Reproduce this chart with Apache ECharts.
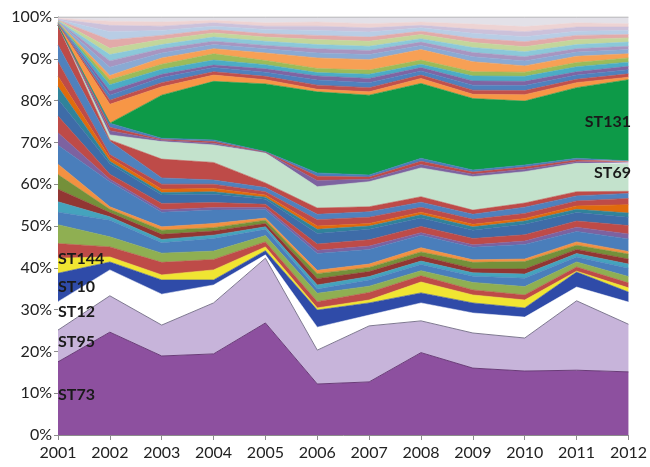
<!DOCTYPE html>
<html><head><meta charset="utf-8">
<script src="https://cdn.jsdelivr.net/npm/echarts@6/dist/echarts.min.js"></script>
<style>html,body{margin:0;padding:0;background:#fff}#c{width:650px;height:467px}</style>
</head><body><div id="c"></div>
<script>
const years = ['2001','2002','2003','2004','2005','2006','2007','2008','2009','2010','2011','2012'];

// main sequence types (% of isolates per year)
const st73  = [17.5, 24.6, 18.9, 19.4, 26.8, 12.2, 12.7, 19.7, 16.0, 15.3, 15.5, 15.1];
const st95  = [7.6, 8.7, 7.4, 12.2, 15.5, 8.1, 13.4, 7.6, 8.4, 7.9, 16.6, 11.4];
const st12  = [6.8, 6.2, 7.4, 4.3, 0.8, 5.5, 2.6, 4.3, 4.8, 5.0, 3.3, 5.3];
const st10  = [6.8, 1.9, 3.4, 1.2, 1.0, 4.1, 2.9, 2.4, 2.4, 2.2, 3.6, 2.4];
const st144 = [3.6, 1.2, 1.2, 2.4, 0.9, 0.5, 0.7, 2.6, 1.9, 1.9, 0.2, 1.0];
const st69  = [0, 1.2, 4.2, 4.2, 7.2, 5.1, 6.0, 6.9, 8.0, 7.5, 6.8, 6.5];
const st131 = [0, 0, 10.3, 14.0, 16.2, 19.4, 19.1, 17.9, 17.1, 15.3, 16.9, 19.4];

// other STs stacked between ST144 and ST69 (one row per year)
const lowerOthersByYear = [
  [3.5,4.5,3.0,2.5,3.0,3.5,2.5,4.5,3.0,4.0,4.0,3.0,2.5,3.5,4.0,4.7],
  [2.4,2.4,4.0,0.8,1.0,0.8,0.6,6.0,0.6,1.2,2.5,0.6,0.8,0.8,3.2,0.3],
  [3.0,2.2,2.5,0.8,1.2,1.0,0.8,3.5,0.6,1.5,2.0,0.6,0.8,1.2,1.5,4.5],
  [2.5,2.0,3.0,0.8,1.0,0.8,1.0,3.2,0.6,1.2,2.0,0.6,0.8,1.0,1.0,4.2],
  [1.2,1.5,1.5,0.6,0.8,0.8,0.5,2.0,0.5,0.8,1.2,0.5,0.5,0.8,1.0,1.1],
  [1.5,2.0,1.0,1.0,1.5,1.2,0.8,4.0,0.8,1.5,2.5,1.0,0.8,1.5,1.3,1.5],
  [1.8,1.5,1.5,0.8,1.2,1.0,0.8,3.5,0.8,1.5,2.5,0.8,0.6,1.5,1.3,1.2],
  [1.5,1.2,1.5,0.8,1.2,1.0,1.0,3.0,0.6,1.5,2.0,0.8,0.6,1.2,1.2,1.3],
  [1.2,1.8,1.5,0.8,1.0,1.5,0.6,3.0,0.6,1.5,2.0,0.8,0.6,1.2,1.2,1.0],
  [1.2,2.0,2.0,1.0,1.2,1.8,0.6,3.5,0.8,1.5,2.5,0.8,0.6,1.2,1.5,1.0],
  [1.0,1.2,1.2,0.8,1.0,1.0,0.8,2.5,1.0,1.5,2.0,0.8,0.8,1.2,1.2,1.0],
  [1.2,1.5,2.0,1.0,1.2,1.2,0.6,3.0,1.2,2.0,2.0,1.0,2.0,1.5,1.2,0.5]
];
// other STs between ST69 and ST131
const midOthersByYear = [
  [0,0,0],[1.0,0.8,1.0],[0.3,0.2,0.3],[0.4,0.4,0.4],[0.1,0.1,0.1],[1.5,1.0,0.8],
  [0.6,0.5,0.5],[0.8,0.8,0.7],[0.6,0.5,0.5],[0.6,0.5,0.5],[0.4,0.4,0.4],[0.3,0.3,0.2]
];
// other STs above ST131
const upperOthersByYear = [
  [0.2,0.1,0.1,0.1,0.1,0.1,0.1,0.1,0.1,0.1,0.1,0.1,0.1,0.1,0.2,0.3],
  [4.5,1.0,1.2,1.0,1.5,1.2,1.0,2.0,1.5,1.5,1.5,2.0,2.0,1.5,1.0,1.0],
  [2.0,1.0,1.2,0.8,1.2,1.2,1.5,1.2,1.0,1.0,1.2,1.0,1.2,1.0,1.0,1.2],
  [1.5,0.8,1.0,0.6,1.2,1.5,1.2,1.0,0.8,1.0,1.0,0.8,0.8,0.8,0.6,0.8],
  [1.0,0.8,1.0,0.8,1.0,1.0,1.8,1.0,0.8,1.0,1.0,0.8,1.0,0.8,0.8,1.4],
  [0.6,1.0,1.2,1.0,0.8,1.0,2.5,1.2,1.0,1.0,1.2,1.0,1.2,1.0,1.0,1.2],
  [0.8,1.0,1.2,1.0,1.0,1.0,2.5,1.2,1.0,1.0,1.2,1.0,1.2,1.0,1.0,1.6],
  [1.2,0.8,1.0,0.8,0.8,1.0,2.5,1.0,0.8,0.8,1.0,0.8,0.8,0.6,0.8,1.2],
  [1.0,1.0,1.2,1.0,1.2,1.0,2.4,1.2,1.0,1.2,1.2,1.0,1.2,1.0,1.2,1.7],
  [1.5,1.0,1.2,1.0,1.2,1.0,1.5,1.2,1.0,1.2,1.2,1.2,1.2,1.2,1.2,2.3],
  [1.2,0.8,1.0,0.8,1.2,1.0,1.5,1.0,0.8,1.0,1.2,1.0,1.0,1.0,1.0,1.4],
  [0.6,0.8,1.0,0.8,1.0,1.0,1.0,1.0,0.8,1.0,1.0,0.8,1.0,0.8,0.8,1.6]
];

const lowerColors = ['#BE4B48','#8FAF52','#4A7EBB','#45A3BD','#923633','#74903A','#F29142','#4A7EBB',
                     '#7D62A0','#BE4B48','#3E6CA8','#30839A','#E06B0C','#BE4B48','#4F81BD','#BE4B48'];
const midColors = ['#7D62A0','#BE4B48','#4A7EBB'];
const upperColors = ['#F79646','#C0504D','#4F81BD','#8064A2','#4BACC6','#9BBB59','#F7A055','#8AAAD3',
                     '#A895C0','#8BC8D9','#C3D69B','#E2AAA9','#B9CDE5','#CCC1DA','#EDD3D3','#E3E1E8'];

const series = [];
function add(name, data, color, line) {
  series.push({
    name, type: 'line', stack: 'all', data, symbol: 'none', showSymbol: false,
    areaStyle: { color, opacity: 1 },
    lineStyle: line || { color, width: 0.6 },
    itemStyle: { color }, emphasis: { disabled: true }, silent: true
  });
}
const col = (rows, i) => rows.map(r => r[i]);

add('ST73', st73, '#8D509F', { color: '#6A3C78', width: 1 });
add('ST95', st95, '#C7B4DA', { color: '#7E7890', width: 1 });
add('ST12', st12, '#FFFFFF', { color: '#FFFFFF', width: 0.5 });
add('ST10', st10, '#2F4BA8');
add('ST144', st144, '#F0E532');
lowerColors.forEach((c, i) => add('a' + i, col(lowerOthersByYear, i), c));
add('ST69', st69, '#C3E2CC');
midColors.forEach((c, i) => add('b' + i, col(midOthersByYear, i), c));
add('ST131', st131, '#0D9A48');
upperColors.forEach((c, i) => add('c' + i, col(upperOthersByYear, i), c,
  i === upperColors.length - 1 ? { color: '#A8A8A8', width: 1 } : null));

const lab = (text, x, y, align) => ({
  type: 'text', z: 100,
  style: { text, x, y, font: 'bold 16px Lato', fill: '#1A1A1A', align: align || 'left', verticalAlign: 'middle' }
});

const chart = echarts.init(document.getElementById('c'), null, { renderer: 'canvas' });
chart.setOption({
  animation: false,
  backgroundColor: '#fff',
  grid: { left: 58, right: 20, top: 17, bottom: 32, containLabel: false },
  xAxis: {
    type: 'category', data: years, boundaryGap: false,
    axisLine: { lineStyle: { color: '#8C8C8C', width: 1 } },
    axisTick: { show: true, length: 5, lineStyle: { color: '#8C8C8C' } },
    axisLabel: { color: '#222', fontSize: 16, fontFamily: 'Lato', margin: 10 },
    splitLine: { show: false }
  },
  yAxis: {
    type: 'value', min: 0, max: 100, interval: 10,
    axisLine: { show: true, lineStyle: { color: '#8C8C8C', width: 1 } },
    axisTick: { show: true, length: 4, lineStyle: { color: '#8C8C8C' } },
    axisLabel: { color: '#222', fontSize: 16, fontFamily: 'Lato', margin: 6, formatter: '{value}%' },
    splitLine: { show: false }
  },
  series,
  graphic: [
    lab('ST131', 631, 122, 'right'),
    lab('ST69', 631, 173, 'right'),
    lab('ST144', 58, 259),
    lab('ST10', 58, 287),
    lab('ST12', 58, 312),
    lab('ST95', 58, 342),
    lab('ST73', 58, 395)
  ]
});
</script></body></html>
